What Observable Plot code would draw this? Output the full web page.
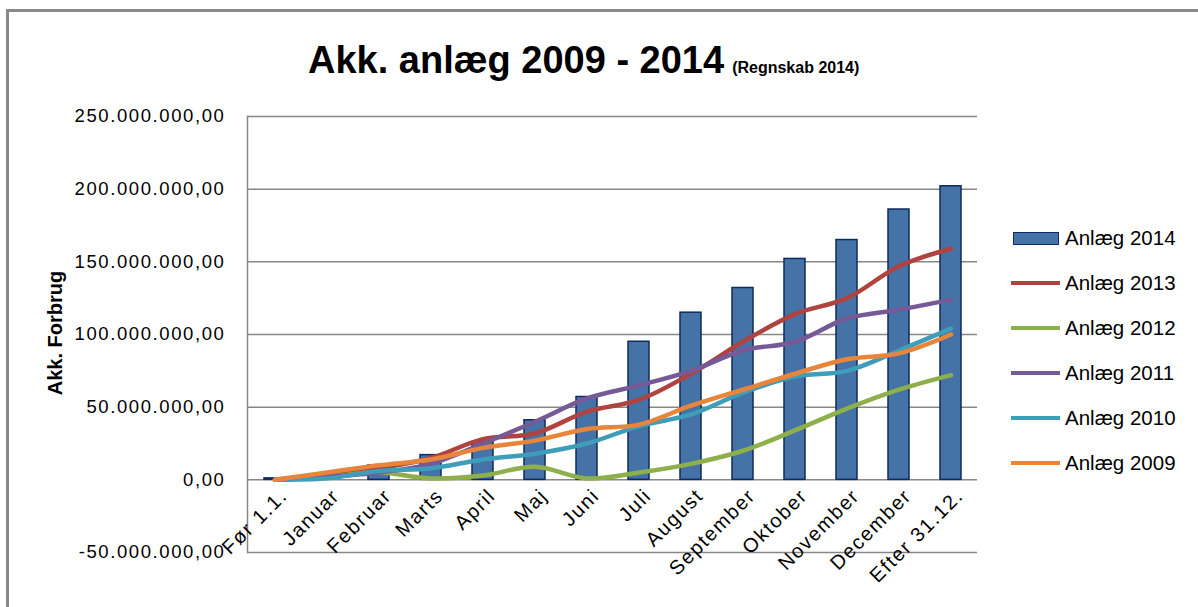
<!DOCTYPE html>
<html>
<head>
<meta charset="utf-8">
<script src="https://cdn.jsdelivr.net/npm/d3@7"></script>
<script src="https://cdn.jsdelivr.net/npm/@observablehq/plot@0.6"></script>
<style>
  html, body { margin: 0; padding: 0; background: #fff; overflow: hidden; }
  #wrap { position: relative; width: 1198px; height: 607px; overflow: hidden; font-family: "Liberation Sans", Arial, sans-serif; }
  #frame { position: absolute; left: 6px; top: 9px; width: 1300px; height: 700px; border: 3px solid #898989; box-sizing: border-box; }
  #chart { position: absolute; left: 0; top: 0; }
  #title { position: absolute; left: 308px; top: 41px; white-space: nowrap; font-weight: bold; font-size: 38px; line-height: 38px; color: #000; }
  #title .sub { font-size: 16px; margin-left: 8px; }
  #ytitle { position: absolute; left: 55px; top: 333px; transform: translate(-50%, -50%) rotate(-90deg); font-weight: bold; font-size: 20px; white-space: nowrap; color: #000; }
  #legend { position: absolute; left: 1011px; top: 0; }
  .row { position: absolute; left: 0; height: 24px; width: 190px; }
  .sw { position: absolute; left: 0; top: 50%; }
  .lab { position: absolute; left: 54px; top: 50%; transform: translateY(-50%); font-size: 20.5px; white-space: nowrap; color: #000; }
  #chart svg text { letter-spacing: 1.6px; }
</style>
</head>
<body>
<div id="wrap">
  <div id="frame"></div>
  <div id="chart"></div>
  <div id="title">Akk. anlæg 2009 - 2014<span class="sub">(Regnskab 2014)</span></div>
  <div id="ytitle">Akk. Forbrug</div>
  <div id="legend"></div>
</div>
<script>
// Categories (x axis)
const categories = ["Før 1.1.", "Januar", "Februar", "Marts", "April", "Maj", "Juni", "Juli", "August", "September", "Oktober", "November", "December", "Efter 31.12."];

// Values in millions
const anlaeg2014 = [1, 0, 10, 17, 26, 41, 57, 95, 115, 132, 152, 165, 186, 202];
const anlaeg2013 = [0, 4, 8, 15, 28, 32, 47, 55, 73, 95, 114, 125, 147, 159];
const anlaeg2012 = [0, 2, 5, 1, 3, 9, 1, 5, 11, 20, 34, 49, 62, 72];
const anlaeg2011 = [0, 2, 5, 11, 25, 40, 56, 65, 75, 89, 95, 111, 117, 124];
const anlaeg2010 = [0, 1, 6, 8, 14, 18, 25, 37, 45, 60, 71, 75, 89, 104];
const anlaeg2009 = [0, 5, 10, 14, 22, 27, 35, 38, 51, 62, 73, 83, 87, 100];

// Y axis ticks
const yTicks = [-50e6, 0, 50e6, 100e6, 150e6, 200e6, 250e6];

// Series names and colors
const seriesNames = ["Anlæg 2014", "Anlæg 2013", "Anlæg 2012", "Anlæg 2011", "Anlæg 2010", "Anlæg 2009"];
const seriesColors = ["#4572A7", "#B0433F", "#8DB04B", "#765A98", "#3E9DB9", "#E8853A"];
const barStroke = "#0F2B5F";

const M = 1e6;
const barData = categories.map((c, i) => ({cat: c, value: anlaeg2014[i] * M}));
const lineSeries = [
  {name: seriesNames[1], color: seriesColors[1], values: anlaeg2013},
  {name: seriesNames[2], color: seriesColors[2], values: anlaeg2012},
  {name: seriesNames[3], color: seriesColors[3], values: anlaeg2011},
  {name: seriesNames[4], color: seriesColors[4], values: anlaeg2010},
  {name: seriesNames[5], color: seriesColors[5], values: anlaeg2009}
];

const locale = d3.formatLocale({decimal: ",", thousands: ".", grouping: [3], currency: ["", ""], minus: "-"});
const fmt = locale.format(",.2f");

const marks = [
  Plot.gridY(yTicks, {stroke: "#878787", strokeOpacity: 1, strokeWidth: 1.5}),
  Plot.frame({anchor: "left", stroke: "#878787", strokeWidth: 1.5}),
  Plot.barY(barData, {x: "cat", y: "value", fill: seriesColors[0], stroke: barStroke, strokeWidth: 1.5}),
  ...lineSeries.map(s => Plot.line(categories.map((c, i) => ({cat: c, value: s.values[i] * M})), {
    x: "cat", y: "value", stroke: s.color, strokeWidth: 4.5, curve: "catmull-rom"
  })),
  Plot.axisY(yTicks, {tickFormat: fmt, tickSize: 0, tickPadding: 22, label: null, fontSize: 18.5}),
  Plot.axisX({anchor: "bottom", tickRotate: -45, tickSize: 0, tickPadding: 0, dy: -60, dx: 9, label: null, fontSize: 20})
];

const chart = Plot.plot({
  width: 1198,
  height: 607,
  marginLeft: 247,
  marginRight: 221,
  marginTop: 116,
  marginBottom: 55,
  style: {fontFamily: "Liberation Sans, Arial, sans-serif", fontSize: "18px", color: "#000", background: "transparent", overflow: "visible"},
  x: {domain: categories, paddingInner: 0.6, paddingOuter: 0.3, label: null},
  y: {domain: [-50e6, 250e6], label: null},
  marks
});
document.getElementById("chart").appendChild(chart);

// Legend
const legend = document.getElementById("legend");
const rowCenters = [238, 283, 328, 373, 418, 463];
seriesNames.forEach((name, i) => {
  const row = document.createElement("div");
  row.className = "row";
  row.style.top = (rowCenters[i] - 12) + "px";
  const sw = document.createElement("div");
  sw.className = "sw";
  if (i === 0) {
    sw.style.left = "2px";
    sw.style.width = "46px";
    sw.style.height = "13px";
    sw.style.marginTop = "-6.5px";
    sw.style.background = seriesColors[0];
    sw.style.border = "1.5px solid " + barStroke;
    sw.style.boxSizing = "border-box";
  } else {
    sw.style.width = "49px";
    sw.style.height = "4px";
    sw.style.marginTop = "-2px";
    sw.style.background = seriesColors[i];
  }
  const lab = document.createElement("div");
  lab.className = "lab";
  lab.textContent = name;
  row.appendChild(sw);
  row.appendChild(lab);
  legend.appendChild(row);
});
</script>
</body>
</html>
